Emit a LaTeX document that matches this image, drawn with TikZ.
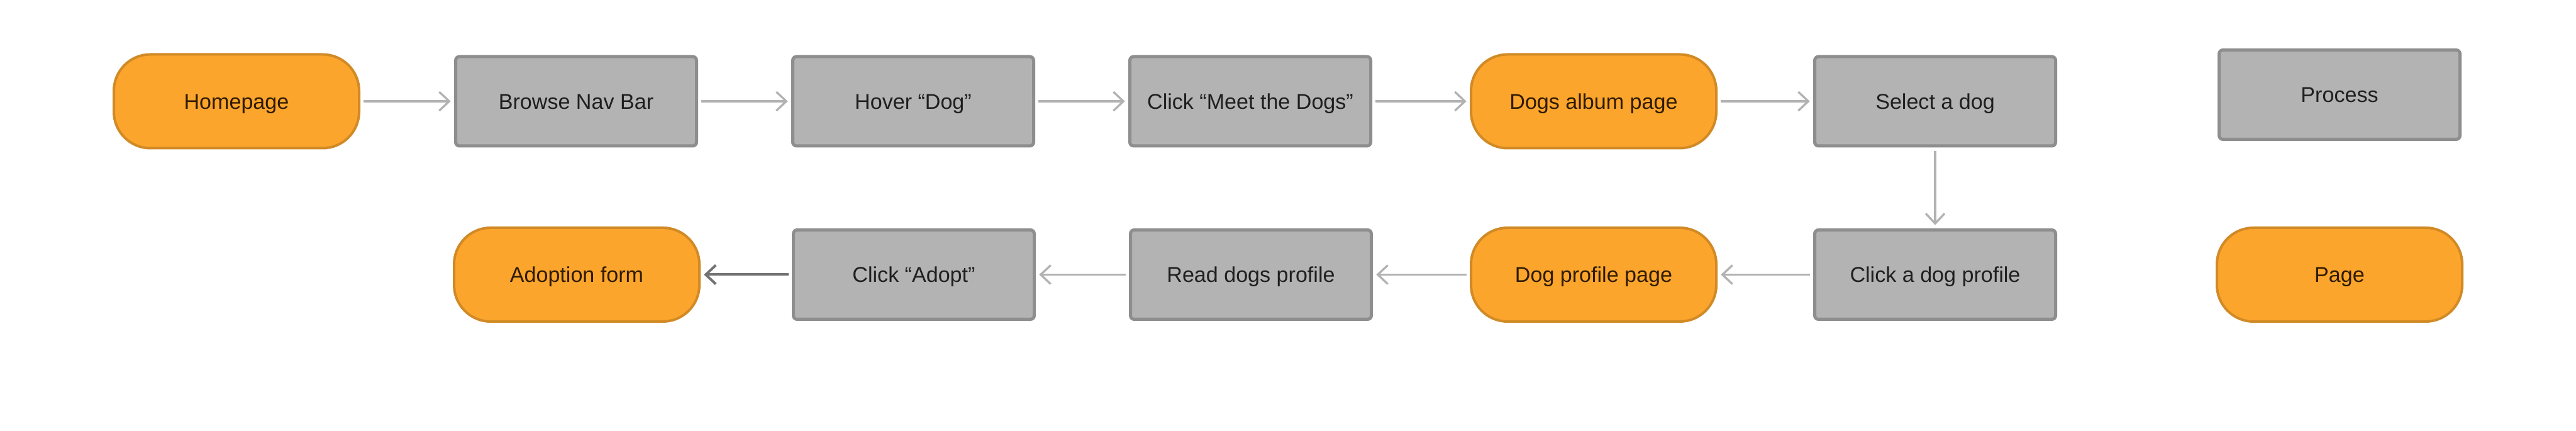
\documentclass[tikz,border=0pt]{standalone}
\usepackage{fontspec}
\setmainfont{Liberation Sans}
\usetikzlibrary{arrows.meta}

\definecolor{pagefill}{HTML}{FCA52D}
\definecolor{pageline}{HTML}{D18A25}
\definecolor{pagetext}{HTML}{2E1B00}
\definecolor{procfill}{HTML}{B3B3B3}
\definecolor{procline}{HTML}{8E8E8E}
\definecolor{proctext}{HTML}{1F1F1F}
\definecolor{linkgray}{HTML}{B2B2B2}
\definecolor{linkdark}{HTML}{727272}

\tikzset{
  pagebox/.style={rectangle, rounded corners=0.58cm, fill=pagefill, draw=pageline,
    line width=0.04cm, minimum width=3.90cm, minimum height=1.49cm,
    text height=7pt, text depth=0pt,
    text=pagetext, font=\fontsize{9.7pt}{11pt}\selectfont},
  procbox/.style={rectangle, rounded corners=0.06cm, fill=procfill, draw=procline,
    line width=0.05cm, minimum width=3.83cm, minimum height=1.42cm,
    text height=7pt, text depth=0pt,
    text=proctext, font=\fontsize{9.7pt}{11pt}\selectfont},
  link/.style={->, draw=linkgray, line width=0.033cm, shorten >=1.5pt, shorten <=1.5pt}
}

\begin{document}
\begin{tikzpicture}[>={Straight Barb[length=0.16cm,width=0.30cm]}]
\useasboundingbox (0,0) rectangle (40.96,6.85);

% first row
\node[pagebox] (home) at (3.76,5.24) {Homepage};
\node[procbox] (navbar) at (9.16,5.24) {Browse Nav Bar};
\node[procbox] (hover) at (14.52,5.24) {Hover “Dog”};
\node[procbox] (meet) at (19.88,5.24) {Click “Meet the Dogs”};
\node[pagebox] (album) at (25.34,5.24) {Dogs album page};
\node[procbox] (select) at (30.77,5.24) {Select a dog};

% second row
\node[pagebox] (form) at (9.17,2.485) {Adoption form};
\node[procbox] (adopt) at (14.53,2.485) {Click “Adopt”};
\node[procbox] (read) at (19.89,2.485) {Read dogs profile};
\node[pagebox] (profile) at (25.34,2.485) {Dog profile page};
\node[procbox] (click) at (30.77,2.485) {Click a dog profile};

% legend
\node[procbox] (keyproc) at (37.20,5.345) {Process};
\node[pagebox] (keypage) at (37.20,2.485) {Page};

\draw[link] (home) -- (navbar);
\draw[link] (navbar) -- (hover);
\draw[link] (hover) -- (meet);
\draw[link] (meet) -- (album);
\draw[link] (album) -- (select);
\draw[link] (select) -- (click);
\draw[link] (click) -- (profile);
\draw[link] (profile) -- (read);
\draw[link] (read) -- (adopt);
\draw[link, draw=linkdark, line width=0.04cm] (adopt) -- (form);
\end{tikzpicture}
\end{document}
